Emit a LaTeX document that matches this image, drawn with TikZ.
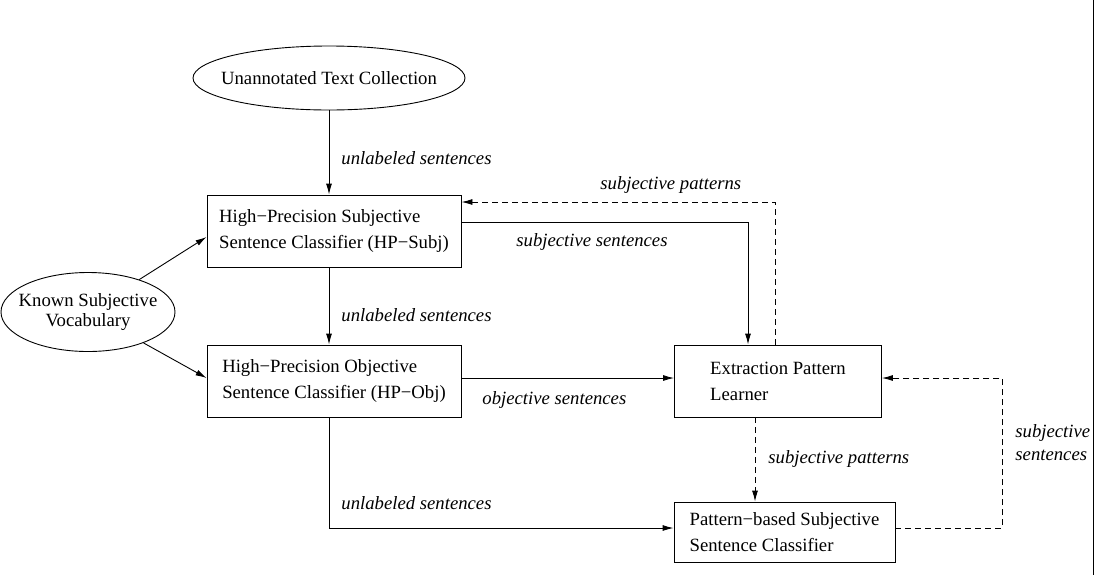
\documentclass[tikz,border=0pt]{standalone}
\usepackage{fontspec}
\setmainfont{Liberation Serif}
\usetikzlibrary{arrows.meta,shapes.geometric}

\begin{document}
\begin{tikzpicture}[x=1pt,y=-1pt,line width=0.9pt,
  >={Latex[length=11pt,width=6pt]},
  box/.style = {draw, align=left, font=\fontsize{18.7}{26}\selectfont, inner sep=0pt},
  oval/.style = {draw, ellipse, align=center, inner sep=0pt, font=\fontsize{18.7}{20}\selectfont},
  lbl/.style = {font=\fontsize{18.7}{23}\selectfont\itshape, align=left, inner sep=0pt},
  feedback/.style = {dash pattern=on 6pt off 4pt}]
\useasboundingbox (0,0) rectangle (1095,582);
% nodes
\node[oval, minimum width=272pt, minimum height=64pt] (text) at (329,78) {\makebox[0pt]{Unannotated Text Collection}};
\node[oval, minimum width=174pt, minimum height=79pt] (vocab) at (88,312) {\makebox[0pt]{Known Subjective}\\\makebox[0pt]{Vocabulary}};
\node[box, minimum width=254pt, minimum height=72pt] (subj) at (334,231) {High−Precision Subjective\\Sentence Classifier (HP−Subj)};
\node[box, minimum width=254pt, minimum height=72pt] (obj) at (334,381) {High−Precision Objective\\Sentence Classifier (HP−Obj)};
\node[box, minimum width=207pt, minimum height=72pt] (learner) at (778,381) {Extraction Pattern\\Learner};
\node[box, minimum width=221pt, minimum height=60pt] (pattern) at (784.5,532) {Pattern−based Subjective\\Sentence Classifier};
% edges
\draw[->] (text.south) -- ([xshift=-5pt]subj.north);
\draw[->] ([xshift=-5pt]subj.south) -- ([xshift=-5pt]obj.north);
\draw[->] (vocab) -- ([yshift=-6pt]subj.west);
\draw[->] (vocab) -- ([yshift=3pt]obj.west);
\draw[->] ([yshift=9pt]subj.east) -| ([xshift=-30pt]learner.north);
\draw[->,feedback] ([xshift=-3pt]learner.north) |- ([yshift=29pt]subj.east);
\draw[->] ([yshift=3pt]obj.east) -- ([yshift=3pt]learner.west);
\draw[->] ([xshift=-5pt]obj.south) |- ([yshift=4pt]pattern.west);
\draw[->,feedback] ([xshift=-23pt]learner.south) -- ([xshift=-23pt]learner.south |- pattern.north);
\draw[->,feedback] ([yshift=4pt]pattern.east) -- ++(107,0) |- ([yshift=3pt]learner.east);
% labels
\node[lbl, anchor=west] (l1) at (341,158) {unlabeled sentences};
\node[lbl, anchor=west] (l2) at (600,185) {subjective patterns};
\node[lbl, anchor=west] (l3) at (516,242) {subjective sentences};
\node[lbl, anchor=west] (l4) at (341,315) {unlabeled sentences};
\node[lbl, anchor=west] (l5) at (482,400) {objective sentences};
\node[lbl, anchor=west] (l6) at (768,459) {subjective patterns};
\node[lbl, anchor=west] (l7) at (341,503) {unlabeled sentences};
\node[lbl, anchor=west] (l8) at (1015,443) {subjective\\sentences};
% right edge
\draw (1093,0) -- (1093,575);
\end{tikzpicture}
\end{document}
